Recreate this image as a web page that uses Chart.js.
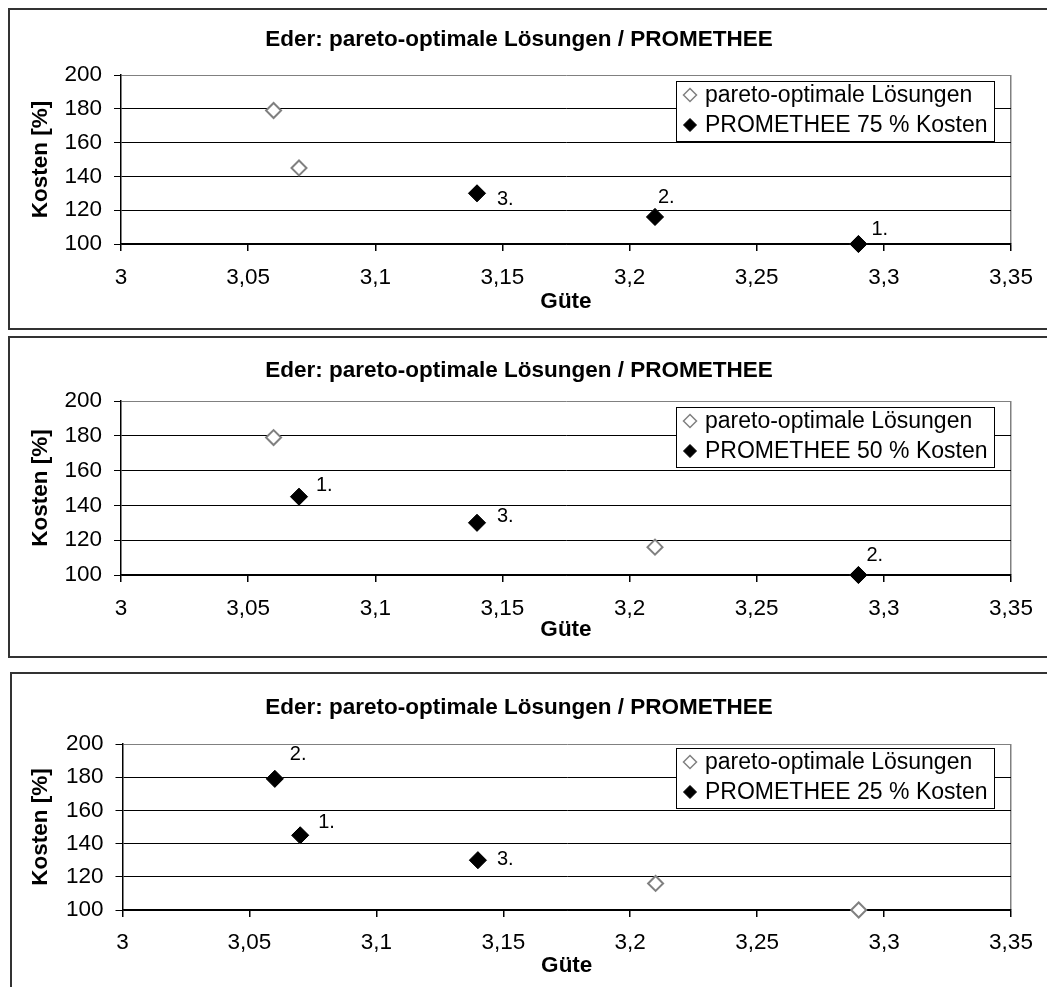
<!DOCTYPE html>
<html><head><meta charset="utf-8">
<script src="https://cdn.jsdelivr.net/npm/chart.js@4.4.1/dist/chart.umd.min.js"></script>
<style>
html,body{margin:0;padding:0;background:#fff;width:1047px;height:987px;overflow:hidden;}
body{position:relative;}
.frame{position:absolute;border:2px solid #333;box-sizing:border-box;}
canvas{position:absolute;left:0;}
</style></head><body>
<div class="frame" style="left:8px;top:8px;width:1100px;height:322px"></div>
<div class="frame" style="left:8px;top:336px;width:1100px;height:322px"></div>
<div class="frame" style="left:10px;top:672px;width:1100px;height:400px"></div>
<canvas id="c1"></canvas>
<canvas id="c2"></canvas>
<canvas id="c3"></canvas>
<script>
// ---------- data ----------
const chartTitle = 'Eder: pareto-optimale Lösungen / PROMETHEE';
const xAxisTitle = 'Güte';
const yAxisTitle = 'Kosten [%]';
const xTickLabels = ['3', '3,05', '3,1', '3,15', '3,2', '3,25', '3,3', '3,35'];
const yTickLabels = ['100', '120', '140', '160', '180', '200'];

const paretoLabel = 'pareto-optimale Lösungen';
const paretoGuete = [3.06, 3.07, 3.14, 3.21, 3.29];
const paretoKosten = [179, 145, 130, 116, 100];

const prom75Label = 'PROMETHEE 75 % Kosten';
const prom75Guete = [3.14, 3.21, 3.29];
const prom75Kosten = [130, 116, 100];
const prom75Rank = ['3.', '2.', '1.'];

const prom50Label = 'PROMETHEE 50 % Kosten';
const prom50Guete = [3.07, 3.14, 3.29];
const prom50Kosten = [145, 130, 100];
const prom50Rank = ['1.', '3.', '2.'];

const prom25Label = 'PROMETHEE 25 % Kosten';
const prom25Guete = [3.06, 3.07, 3.14];
const prom25Kosten = [179, 145, 130];
const prom25Rank = ['2.', '1.', '3.'];

// ---------- layout (pixels) ----------
const FONT = '"Liberation Sans", Arial, sans-serif';
const layouts = [
  {id:'c1', top:8, bottom:329, plotTop:75, plotBottom:244, plotLeft:121, plotRight:1011, titleY:40, tickY:277.5, xTitleY:302, legendTop:6,
   labelOffsets:[[20,6],[3,-19],[13,-15]], label:prom75Label, g:prom75Guete, k:prom75Kosten, rank:prom75Rank},
  {id:'c2', top:336, bottom:657, plotTop:401, plotBottom:575, plotLeft:121, plotRight:1011, titleY:371, tickY:609, xTitleY:630, legendTop:6,
   labelOffsets:[[17,-11],[20,-6],[8,-20]], label:prom50Label, g:prom50Guete, k:prom50Kosten, rank:prom50Rank},
  {id:'c3', top:672, bottom:987, plotTop:744, plotBottom:910, plotLeft:122.5, plotRight:1011, titleY:708, tickY:943, xTitleY:966, legendTop:4,
   labelOffsets:[[15,-24],[18,-13],[19,-1]], label:prom25Label, g:prom25Guete, k:prom25Kosten, rank:prom25Rank}
];

function drawDiamond(ctx, x, y, r, fill, stroke, lw) {
  ctx.beginPath();
  ctx.moveTo(x - r, y); ctx.lineTo(x, y - r); ctx.lineTo(x + r, y); ctx.lineTo(x, y + r); ctx.closePath();
  ctx.fillStyle = fill; ctx.fill();
  ctx.lineWidth = lw; ctx.strokeStyle = stroke; ctx.stroke();
}

const boxLegend = {
  id: 'boxLegend',
  afterDraw(chart, args, opts) {
    const ctx = chart.ctx, a = chart.chartArea;
    ctx.save();
    ctx.font = opts.fontSize + 'px ' + FONT;
    const ds = chart.data.datasets;
    let maxW = 0;
    ds.forEach(d => { maxW = Math.max(maxW, ctx.measureText(d.label).width); });
    const w = Math.round(maxW + 29 + 7), h = 60;
    const right = a.right - 17, left = right - w, top = a.top + opts.top;
    ctx.fillStyle = '#fff';
    ctx.fillRect(left, top, w, h);
    ctx.lineWidth = 1; ctx.strokeStyle = '#000';
    ctx.strokeRect(Math.round(left) + 0.5, Math.round(top) + 0.5, w, h);
    ds.forEach((d, i) => {
      const cy = top + 14 + i * 30;
      drawDiamond(ctx, left + 14, cy, 6.5, d.backgroundColor, d.borderColor, d.borderWidth > 1 ? 1.5 : 1);
      ctx.fillStyle = '#000'; ctx.textAlign = 'left'; ctx.textBaseline = 'middle';
      ctx.fillText(d.label, left + 29, cy + 1);
    });
    ctx.restore();
  }
};

const rankLabels = {
  id: 'rankLabels',
  afterDatasetsDraw(chart, args, opts) {
    const ctx = chart.ctx;
    const idx = chart.data.datasets.findIndex(d => d.ranks);
    const d = chart.data.datasets[idx];
    const meta = chart.getDatasetMeta(idx);
    ctx.save();
    ctx.font = opts.fontSize + 'px ' + FONT;
    ctx.fillStyle = '#000'; ctx.textAlign = 'left'; ctx.textBaseline = 'middle';
    meta.data.forEach((pt, i) => {
      const off = opts.offsets[i];
      ctx.fillText(d.ranks[i], pt.x + off[0], pt.y + off[1]);
    });
    ctx.restore();
  }
};

const fs = 22.5, lh = fs * 1.2;
const W = 1047, padLeft = 27;

layouts.forEach(L => {
  const cv = document.getElementById(L.id);
  const H = L.bottom - L.top;
  cv.width = W; cv.height = H;
  cv.style.top = L.top + 'px';
  cv.style.width = W + 'px'; cv.style.height = H + 'px';
  const titleCenter = L.titleY - L.top;
  const tPadTop = titleCenter - lh / 2;
  const tPadBottom = (L.plotTop - L.top) - tPadTop - lh;
  const xScaleH = H - (L.plotBottom - L.top);
  const xTitlePadBottom = (H - (L.xTitleY - L.top)) - lh / 2;
  const xTickPad = (L.tickY - L.plotBottom) - 7 - lh / 2;

  new Chart(cv, {
    type: 'scatter',
    data: {
      datasets: [
        {label: paretoLabel, data: paretoGuete.map((g, i) => ({x: g, y: paretoKosten[i]})),
         pointStyle: 'rectRot', pointRadius: 7.5, pointHoverRadius: 7.5, clip: false,
         backgroundColor: '#fff', borderColor: '#808080', borderWidth: 2, order: 1},
        {label: L.label, data: L.g.map((g, i) => ({x: g, y: L.k[i]})), ranks: L.rank,
         pointStyle: 'rectRot', pointRadius: 8.5, pointHoverRadius: 8.5, clip: false,
         backgroundColor: '#000', borderColor: '#000', borderWidth: 1, order: 0}
      ]
    },
    options: {
      responsive: false, animation: false, devicePixelRatio: 1,
      layout: {padding: {left: padLeft, right: W - L.plotRight, top: 0, bottom: 0}},
      plugins: {
        legend: {display: false}, tooltip: {enabled: false},
        title: {display: true, text: chartTitle, color: '#000',
                font: {family: FONT, size: fs, weight: 'bold', lineHeight: 1.2},
                padding: {top: tPadTop, bottom: tPadBottom}},
        boxLegend: {fontSize: 23, top: L.legendTop},
        rankLabels: {fontSize: 20, offsets: L.labelOffsets}
      },
      scales: {
        x: {
          type: 'linear', min: 3, max: 3.35,
          afterFit: s => { s.height = xScaleH; },
          ticks: {stepSize: 0.05, color: '#000', padding: xTickPad, maxRotation: 0, autoSkip: false,
                  font: {family: FONT, size: fs, lineHeight: 1.2},
                  callback: (v, i) => xTickLabels[i]},
          grid: {drawOnChartArea: true, tickLength: 7, tickColor: '#000', lineWidth: 1.5,
                 color: c => (c.tick && c.tick.value > 3.349) ? '#808080' : 'rgba(0,0,0,0)'},
          border: {display: true, color: '#000', width: 1.5},
          title: {display: true, text: xAxisTitle, color: '#000',
                  font: {family: FONT, size: fs, weight: 'bold', lineHeight: 1.2},
                  padding: {top: 0, bottom: xTitlePadBottom}}
        },
        y: {
          type: 'linear', min: 100, max: 200,
          afterFit: s => { s.width = L.plotLeft - padLeft; },
          ticks: {stepSize: 20, color: '#000', padding: 12,
                  font: {family: FONT, size: fs, lineHeight: 1.2},
                  callback: (v, i) => yTickLabels[i]},
          grid: {tickLength: 7, tickColor: '#000', lineWidth: 1,
                 color: c => (c.tick && c.tick.value >= 200) ? '#808080' : '#000'},
          border: {display: true, color: '#000', width: 1.5},
          title: {display: true, text: yAxisTitle, color: '#000',
                  font: {family: FONT, size: fs, weight: 'bold', lineHeight: 1.2},
                  padding: {top: Math.max(0, 13 - lh / 2), bottom: 0}}
        }
      }
    },
    plugins: [boxLegend, rankLabels]
  });
});
</script>
</body></html>
